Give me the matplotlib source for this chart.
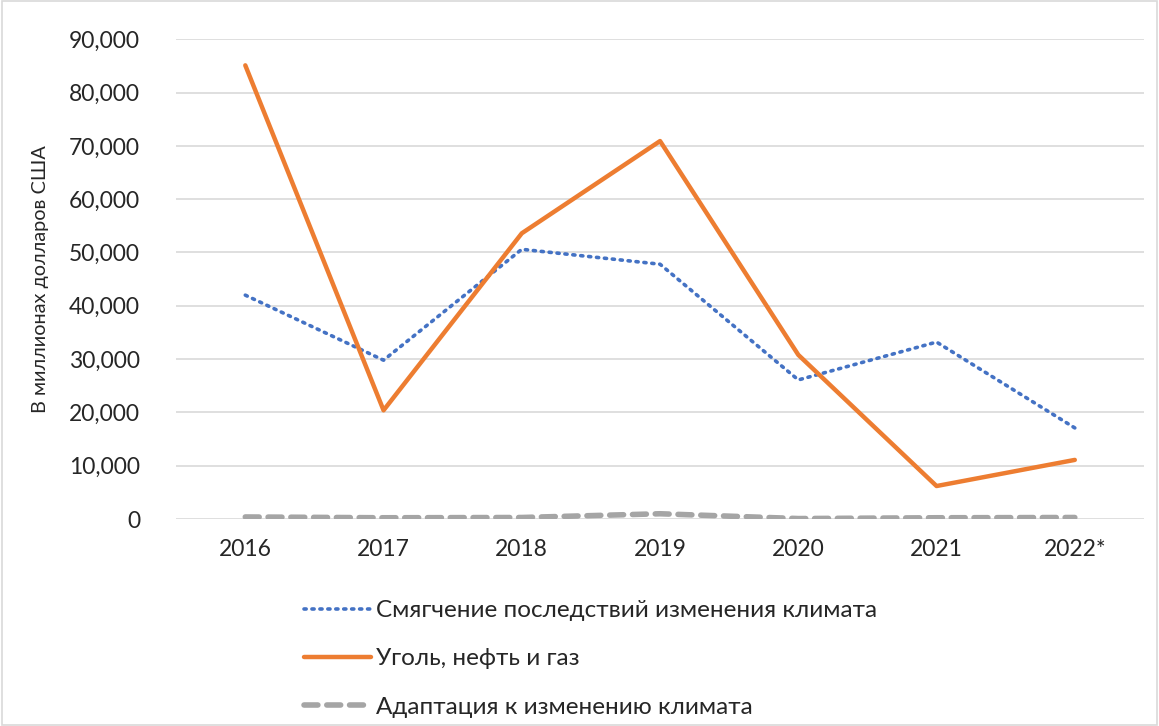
import matplotlib.pyplot as plt
from matplotlib.patches import Rectangle
from matplotlib.ticker import FuncFormatter

plt.rcParams["font.family"] = ["Lato", "Open Sans", "DejaVu Sans"]

years = ["2016", "2017", "2018", "2019", "2020", "2021", "2022*"]
mitigation = [42000, 29800, 50600, 47800, 26100, 33200, 17100]
fossil = [85100, 20400, 53600, 70900, 30800, 6200, 11100]
adaptation = [400, 250, 300, 1000, 100, 250, 300]

labels = [
    "Смягчение последствий изменения климата",
    "Уголь, нефть и газ",
    "Адаптация к изменению климата",
]

fig = plt.figure(figsize=(11.59, 7.26), dpi=100)
ax = fig.add_axes([0.152, 0.285, 0.835, 0.661])

x = range(len(years))
ax.plot(x, mitigation, color="#4472C4", lw=2.6, linestyle=(0, (0.6, 1.6)),
        dash_capstyle="round", label=labels[0])
ax.plot(x, fossil, color="#ED7D31", lw=3.2, solid_capstyle="round", label=labels[1])
ax.plot(x, adaptation, color="#A5A5A5", lw=4, linestyle=(0, (2.5, 1.6)),
        dash_capstyle="round", label=labels[2])

ax.set_xlim(-0.5, len(years) - 0.5)
ax.set_ylim(0, 90000)
ax.set_yticks(range(0, 90001, 10000))
ax.yaxis.set_major_formatter(FuncFormatter(lambda v, p: f"{int(v):,}"))
ax.set_xticks(list(x))
ax.set_xticklabels(years)
ax.tick_params(length=0, labelsize=16.5, colors="#262626")
ax.tick_params(axis="x", pad=14)
ax.tick_params(axis="y", pad=26)
ax.grid(axis="y", color="#D9D9D9", lw=1.2)
ax.set_axisbelow(True)
for s in ax.spines.values():
    s.set_visible(False)
ax.set_ylabel("В миллионах долларов США", fontsize=14.3, color="#262626", labelpad=14)

fig.legend(loc="upper left", bbox_to_anchor=(0.252, 0.19), frameon=False,
           fontsize=17.5, handlelength=2.75, handletextpad=0.2, labelspacing=1.12,
           labelcolor="#262626", borderpad=0)

fig.patches.append(Rectangle((0.002, 0.002), 0.996, 0.996, transform=fig.transFigure,
                             fill=False, edgecolor="#D9D9D9", lw=1.2))

fig.savefig("out.png", dpi=100)
